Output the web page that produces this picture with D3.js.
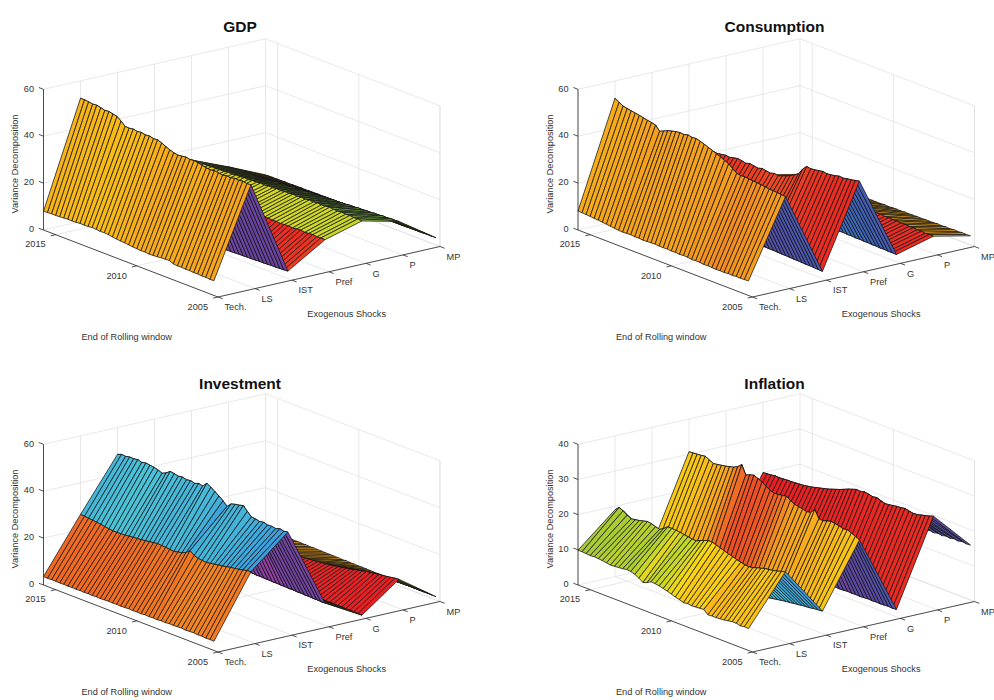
<!DOCTYPE html>
<html><head><meta charset="utf-8">
<script src="https://cdn.jsdelivr.net/npm/d3@7"></script>
<style>
body{margin:0;background:#fff}
text{font-family:"Liberation Sans",Arial,Helvetica,sans-serif}
</style>
</head><body><script>
const shocks = ["Tech.","LS","IST","Pref","G","P","MP"];
const dates = [2005.25,2005.5,2005.75,2006,2006.25,2006.5,2006.75,2007,2007.25,2007.5,2007.75,2008,2008.25,2008.5,2008.75,2009,2009.25,2009.5,2009.75,2010,2010.25,2010.5,2010.75,2011,2011.25,2011.5,2011.75,2012,2012.25,2012.5,2012.75,2013,2013.25,2013.5,2013.75,2014,2014.25,2014.5,2014.75,2015,2015.25,2015.5,2015.75];
const yearTicks = [2005,2010,2015];
const zTicks60 = [0,20,40,60];
const zTicks40 = [0,10,20,30,40];

// GDP
const gdpTech = [6.3,6.2,6.4,6.3,6.5,6.4,6.6,6.5,6.7,6.6,6.8,7.6,7.5,7.4,7.2,7.1,7.0,7.2,7.1,7.3,7.4,7.6,7.8,7.9,8.1,8.3,8.6,8.8,8.7,8.9,9.0,8.8,8.7,8.8,8.6,8.5,8.6,8.4,8.3,8.2,8.2,8.1,8.0];
const gdpLS = [43.6,43.4,43.8,43.5,43.7,43.2,43.5,43.0,43.4,43.6,43.3,43.5,43.9,44.3,44.6,44.4,44.8,44.5,44.3,44.6,45.2,46.0,46.8,47.5,47.3,47.8,47.6,48.0,47.7,48.1,47.8,47.9,49.5,50.8,51.2,51.6,51.4,51.9,52.3,52.1,52.4,52.6,52.6];
const gdpIST = [3.2,3.1,3.0,2.9,2.9,2.8,2.7,2.7,2.6,2.5,2.5,2.4,2.4,2.3,2.2,2.2,2.1,2.1,2.0,2.0,2.0,1.9,1.9,1.9,1.8,1.8,1.8,1.7,1.7,1.7,1.7,1.6,1.6,1.6,1.6,1.5,1.5,1.5,1.5,1.5,1.4,1.4,1.4];
const gdpPref = [13.0,13.1,12.9,13.2,13.0,12.8,13.1,12.9,12.7,12.9,12.8,12.6,12.8,12.7,12.9,12.6,12.8,12.5,12.7,12.6,12.4,12.6,12.5,12.3,12.5,12.4,12.2,12.4,12.3,12.1,12.3,12.2,12.0,12.2,12.1,11.9,12.1,12.0,11.8,12.0,11.9,11.8,11.9];
const gdpG = [17.4,17.6,17.5,17.7,17.6,17.8,17.6,17.7,17.9,17.7,17.6,17.8,17.5,17.7,17.4,17.6,17.3,17.5,17.2,17.3,17.0,17.2,16.9,17.0,16.7,16.9,16.6,16.7,16.4,16.6,16.3,16.4,16.1,16.2,15.9,16.0,15.8,15.9,15.7,15.8,15.6,15.7,15.5];
const gdpP = [13.6,13.4,13.5,13.2,13.3,13.0,13.1,12.8,12.9,12.6,12.7,12.4,12.5,12.1,12.2,11.9,12.0,11.7,11.8,11.5,11.5,11.2,11.3,11.0,11.0,10.7,10.8,10.5,10.5,10.2,10.3,10.0,10.0,9.8,9.8,9.6,9.6,9.4,9.4,9.3,9.2,9.1,9.0];
const gdpMP = [3.1,3.0,3.1,3.0,2.9,3.0,2.9,2.9,2.8,2.9,2.8,2.8,2.7,2.8,2.7,2.7,2.6,2.7,2.6,2.6,2.5,2.6,2.5,2.5,2.4,2.5,2.4,2.4,2.3,2.4,2.3,2.3,2.2,2.3,2.2,2.2,2.1,2.2,2.1,2.1,2.1,2.0,2.0];

// Consumption
const conTech = [6.2,6.1,6.0,6.1,5.9,6.0,5.8,5.9,5.8,5.9,6.0,5.9,6.1,6.2,6.0,6.3,6.4,6.2,6.4,6.3,6.5,6.4,6.4,6.6,6.5,6.4,6.3,6.5,6.4,6.6,6.5,6.4,6.5,6.7,6.9,7.1,7.3,7.5,7.6,7.8,7.9,8.0,8.1];
const conLS = [38.5,38.7,38.9,39.1,39.0,39.4,39.6,39.8,39.9,40.1,40.3,40.2,40.5,41.8,43.2,44.0,44.8,45.5,46.3,46.9,47.6,48.2,48.7,48.5,48.9,48.4,48.6,48.3,47.9,47.4,46.6,45.8,47.8,48.2,48.5,48.9,49.3,49.6,49.9,50.2,50.6,51.5,52.6];
const conIST = [3.1,3.2,3.3,3.4,3.4,3.5,3.6,3.6,3.7,3.8,3.8,3.9,4.0,4.0,4.1,4.1,4.2,4.2,4.3,4.3,4.3,4.2,4.2,4.1,4.1,4.0,4.0,3.9,3.9,3.8,3.8,3.7,3.6,3.6,3.5,3.4,3.4,3.3,3.2,3.2,3.1,3.1,3.0];
const conPref = [38.0,37.6,37.2,37.0,36.6,36.8,36.3,36.0,35.8,36.1,35.8,35.5,35.3,35.6,33.8,31.2,30.0,29.1,28.2,27.6,27.0,27.3,26.8,27.1,27.4,26.9,27.2,27.5,27.0,27.4,27.7,27.3,26.9,27.1,26.8,26.5,26.7,26.4,26.2,26.5,26.3,26.1,25.9];
const conG = [3.1,3.2,3.1,3.3,3.2,3.4,3.3,3.5,3.4,3.6,3.5,3.7,3.6,3.8,3.7,3.9,3.8,4.0,3.9,4.0,3.9,4.0,3.8,3.9,3.7,3.8,3.6,3.7,3.5,3.6,3.4,3.5,3.3,3.3,3.1,3.2,3.0,3.0,2.9,2.9,2.8,2.8,2.7];
const conP = [7.3,7.4,7.2,7.5,7.4,7.6,7.5,7.7,7.6,7.8,7.7,7.9,7.8,8.0,7.9,8.1,8.0,8.2,8.1,8.2,8.1,8.2,8.0,8.1,7.9,8.0,7.8,7.8,7.6,7.6,7.4,7.3,7.1,7.0,6.8,6.7,6.5,6.4,6.2,6.1,5.9,5.8,5.6];
const conMP = [3.9,3.8,3.9,3.7,3.8,3.6,3.7,3.5,3.6,3.5,3.4,3.5,3.3,3.4,3.3,3.2,3.3,3.1,3.2,3.1,3.0,3.1,3.0,2.9,3.0,2.9,2.8,2.9,2.8,2.7,2.8,2.7,2.6,2.6,2.5,2.5,2.4,2.5,2.4,2.3,2.3,2.3,2.2];

// Investment
const invTech = [3.9,4.0,3.9,4.1,4.0,4.2,4.1,4.0,4.2,4.1,4.0,4.1,3.9,4.0,3.8,3.9,3.8,3.9,3.7,3.8,3.7,3.8,3.7,3.6,3.7,3.6,3.7,3.6,3.5,3.6,3.5,3.6,3.5,3.6,3.5,3.6,3.5,3.6,3.5,3.6,3.6,3.5,3.6];
const invLS = [30.0,29.8,29.4,29.0,28.7,28.5,28.1,27.8,27.5,27.2,26.9,26.6,26.8,27.0,27.6,29.0,27.5,26.8,26.4,26.0,26.2,26.4,26.5,26.7,26.4,26.2,25.9,25.7,25.5,25.4,25.2,25.0,24.9,24.8,24.8,25.0,25.3,25.6,25.8,26.0,26.2,26.4,26.5];
const invIST = [43.3,43.0,43.4,42.8,43.1,43.0,43.5,43.2,43.6,43.8,45.5,47.3,46.8,46.5,46.0,44.3,46.0,47.4,48.6,49.8,50.8,49.0,49.4,48.8,49.3,49.0,49.5,49.2,49.6,49.9,48.6,47.8,48.5,49.0,49.2,49.5,49.1,49.6,49.3,49.4,49.0,49.2,48.5];
const invPref = [9.5,9.4,9.6,9.5,9.7,9.6,9.8,9.7,9.9,9.8,10.0,9.9,10.1,10.0,10.2,10.1,10.3,10.2,10.4,10.3,10.5,10.4,10.6,10.5,10.7,10.6,10.8,10.7,10.9,10.8,11.0,10.9,11.1,11.0,11.2,11.1,11.3,11.2,11.4,11.3,11.5,11.4,11.5];
const invG = [0.7,0.7,0.8,0.7,0.8,0.8,0.8,0.9,0.8,0.9,0.9,0.9,1.0,0.9,1.0,1.0,1.0,1.1,1.0,1.1,1.1,1.1,1.2,1.1,1.2,1.2,1.2,1.3,1.2,1.3,1.3,1.3,1.4,1.3,1.4,1.4,1.4,1.5,1.4,1.5,1.5,1.5,1.5];
const invP = [12.4,12.2,11.9,11.6,11.4,11.1,10.9,10.6,10.4,10.0,9.6,9.2,8.8,8.5,8.1,7.8,7.5,7.2,7.0,6.8,6.6,6.4,6.3,6.1,6.0,5.9,5.9,5.8,5.8,5.8,5.8,5.8,5.9,5.9,5.9,6.0,6.0,6.0,6.0,6.1,6.1,6.0,6.0];
const invMP = [1.4,1.4,1.5,1.4,1.5,1.5,1.6,1.5,1.6,1.6,1.7,1.6,1.7,1.7,1.8,1.7,1.8,1.8,1.9,1.8,1.9,1.9,2.0,1.9,2.0,2.0,2.1,2.0,2.1,2.1,2.2,2.1,2.2,2.2,2.3,2.2,2.3,2.3,2.4,2.3,2.4,2.4,2.4];

// Inflation
const infTech = [6.2,6.3,6.1,6.4,6.4,6.2,6.0,5.9,5.8,5.8,5.7,6.8,6.7,6.6,6.5,6.7,6.5,6.9,7.2,7.6,8.0,8.3,8.6,8.8,8.9,8.2,7.8,8.6,9.2,9.6,9.7,9.5,9.4,9.3,9.2,9.4,9.6,9.7,9.8,9.7,9.8,9.9,9.9];
const infLS = [20.0,19.6,19.3,19.0,18.8,18.7,18.3,18.0,17.6,17.4,17.5,17.8,18.1,18.5,18.8,19.2,19.6,20.0,20.4,20.4,20.0,19.5,19.0,19.1,19.3,19.5,19.7,19.8,19.9,19.9,19.0,18.3,18.6,19.0,19.2,18.9,18.6,18.4,18.2,18.8,19.6,20.1,19.0];
const infIST = [6.4,6.3,6.2,6.0,5.9,5.8,5.6,5.5,5.3,5.2,5.0,4.8,4.6,4.4,4.2,4.0,3.8,3.6,3.4,3.2,3.1,3.0,2.9,2.9,2.8,2.8,2.9,3.0,3.2,3.4,3.6,4.0,4.4,4.9,5.3,5.7,6.0,6.2,6.4,6.5,6.5,6.6,6.6];
const infPref = [24.2,24.8,25.3,25.8,25.6,26.0,26.2,26.4,26.1,25.7,25.8,28.0,26.7,26.5,26.8,27.0,27.3,27.9,28.7,28.5,28.3,28.2,28.6,29.3,30.1,30.6,31.1,30.8,30.3,32.8,31.8,31.2,30.9,30.6,30.4,30.2,30.0,30.6,31.2,31.0,30.9,30.8,30.7];
const infG = [2.1,2.0,2.1,2.0,1.9,2.0,1.9,2.0,1.9,1.8,1.9,1.8,1.9,1.8,1.7,1.8,1.7,1.8,1.7,1.6,1.7,1.6,1.7,1.6,1.5,1.6,1.5,1.6,1.5,1.5,1.6,1.5,1.5,1.4,1.5,1.4,1.5,1.4,1.4,1.5,1.4,1.5,1.5];
const infP = [26.2,25.8,25.5,25.2,24.9,24.8,25.0,25.3,25.1,25.0,24.8,24.6,24.5,24.8,25.3,25.1,25.4,25.6,25.3,25.4,25.0,24.6,24.1,23.6,23.2,22.8,22.4,22.1,21.8,21.5,21.2,21.0,20.8,20.7,20.6,20.5,20.5,20.4,20.3,20.4,20.2,20.1,20.0];
const infMP = [15.6,15.5,15.7,15.4,15.6,15.3,15.5,15.2,15.4,15.1,15.3,15.0,15.2,14.9,15.1,14.8,15.0,14.7,14.9,14.6,14.8,14.5,14.6,14.3,14.4,14.1,14.2,13.9,14.0,13.7,13.8,13.5,13.6,13.3,13.3,13.0,13.0,12.8,12.7,12.5,12.4,12.3,12.1];

// colormap (red -> orange -> yellow -> green -> cyan -> blue -> purple)
const cmStops = [0,0.03,0.05,0.065,0.08,0.12,0.15,0.18,0.23,0.29,0.38,0.48,0.58,0.68,0.80,0.91,1.0];
const cmColors = ["#e82024","#ea3223","#ef5a24","#f27d22","#f5a01e","#f8ae1a","#f9be18","#fad714","#c8d728","#96c33c","#64be78","#4bc3d7","#3ca0dc","#3c64b9","#5f46a0","#8c41a5","#b437a0"];
const cmap = d3.scaleLinear().domain(cmStops).range(cmColors).interpolate(d3.interpolateRgb).clamp(true);

const panels = [
  {title:"GDP", series:[gdpTech,gdpLS,gdpIST,gdpPref,gdpG,gdpP,gdpMP], zMax:60, zTicks:zTicks60, dx:0, dy:0, ty:31.5},
  {title:"Consumption", series:[conTech,conLS,conIST,conPref,conG,conP,conMP], zMax:60, zTicks:zTicks60, dx:534.5, dy:0, ty:31.5},
  {title:"Investment", series:[invTech,invLS,invIST,invPref,invG,invP,invMP], zMax:60, zTicks:zTicks60, dx:0, dy:355, ty:388.5},
  {title:"Inflation", series:[infTech,infLS,infIST,infPref,infG,infP,infMP], zMax:40, zTicks:zTicks40, dx:534.5, dy:355, ty:388.5}
];

const W = 994, H = 700;
const svg = d3.select("body").append("svg").attr("width", W).attr("height", H)
  .style("background","#fff");

const yMin = 2005, yMax = 2015.75;
const VX = [222, -50.5], VY = [-174.5, -67], VZ = 140.7;

function drawPanel(p){
  const g = svg.append("g");
  const O = [218 + p.dx, 297 + p.dy];
  const nK = shocks.length - 1;
  const xs = d3.scaleLinear().domain([0, nK]).range([0, 1]);
  const ys = d3.scaleLinear().domain([yMin, yMax]).range([0, 1]);
  const zs = d3.scaleLinear().domain([0, p.zMax]).range([0, VZ]);
  const P = (k, d, z) => [O[0] + xs(k)*VX[0] + ys(d)*VY[0], O[1] + xs(k)*VX[1] + ys(d)*VY[1] - zs(z)];
  const line = d3.line();
  const seg = (a, b, col, w) => g.append("path").attr("d", line([a, b])).attr("stroke", col).attr("stroke-width", w).attr("fill", "none");

  // grid
  const gc = "#dedede", gw = 0.7;
  shocks.forEach((s, k) => seg(P(k, yMin, 0), P(k, yMax, 0), gc, gw));
  yearTicks.forEach(d => seg(P(0, d, 0), P(nK, d, 0), gc, gw));
  shocks.forEach((s, k) => seg(P(k, yMax, 0), P(k, yMax, p.zMax), gc, gw));
  p.zTicks.forEach(z => seg(P(0, yMax, z), P(nK, yMax, z), gc, gw));
  yearTicks.forEach(d => seg(P(nK, d, 0), P(nK, d, p.zMax), gc, gw));
  seg(P(nK, yMin, 0), P(nK, yMin, p.zMax), gc, gw);
  p.zTicks.forEach(z => seg(P(nK, yMin, z), P(nK, yMax, z), gc, gw));

  // surface faces, back to front
  const Z = p.series;
  const ext = d3.extent(Z.flat());
  const faces = [];
  for (let k = nK - 1; k >= 0; k--) {
    for (let j = dates.length - 2; j >= 0; j--) {
      faces.push({
        pts: [P(k, dates[j], Z[k][j]), P(k+1, dates[j], Z[k+1][j]), P(k+1, dates[j+1], Z[k+1][j+1]), P(k, dates[j+1], Z[k][j+1])],
        c: Z[k][j]
      });
    }
  }
  g.append("g").selectAll("path").data(faces).join("path")
    .attr("d", f => line(f.pts) + "Z")
    .attr("fill", f => cmap((f.c - ext[0]) / (ext[1] - ext[0])))
    .attr("stroke", "#141414").attr("stroke-width", 0.75).attr("stroke-linejoin", "round");

  // axes
  const ac = "#262626", aw = 0.8;
  seg(P(0, yMax, 0), P(0, yMax, p.zMax), ac, aw);
  seg(P(0, yMax, 0), P(0, yMin, 0), ac, aw);
  seg(P(0, yMin, 0), P(nK, yMin, 0), ac, aw);
  const uy = Math.hypot(VY[0], VY[1]), ux = Math.hypot(VX[0], VX[1]);
  const tl = 5;
  shocks.forEach((s, k) => {
    const a = P(k, yMin, 0);
    seg(a, [a[0] - VY[0]/uy*tl, a[1] - VY[1]/uy*tl], ac, aw);
    g.append("text").attr("x", a[0] + 6.5).attr("y", a[1] + 10).attr("dy", "0.35em")
      .attr("font-size", 9.2).attr("fill", "#333").text(s);
  });
  yearTicks.forEach(d => {
    const a = P(0, d, 0);
    seg(a, [a[0] - VX[0]/ux*tl, a[1] - VX[1]/ux*tl], ac, aw);
    g.append("text").attr("x", a[0] - 10).attr("y", a[1] + 9.5).attr("dy", "0.35em")
      .attr("text-anchor", "end").attr("font-size", 9.2).attr("fill", "#333").text(d);
  });
  p.zTicks.forEach(z => {
    const a = P(0, yMax, z);
    seg(a, [a[0] + VY[0]/uy*tl, a[1] + VY[1]/uy*tl], ac, aw);
    g.append("text").attr("x", a[0] - 9.5).attr("y", a[1] - 1).attr("dy", "0.35em")
      .attr("text-anchor", "end").attr("font-size", 9.2).attr("fill", "#333").text(z);
  });

  // labels
  g.append("text").attr("x", 240 + p.dx).attr("y", p.ty).attr("text-anchor", "middle")
    .attr("font-size", 15.5).attr("font-weight", "bold").attr("fill", "#111").text(p.title);
  g.append("text").attr("x", 346.7 + p.dx).attr("y", 313.3 + p.dy).attr("dy", "0.35em")
    .attr("text-anchor", "middle").attr("font-size", 9.2).attr("fill", "#333").text("Exogenous Shocks");
  g.append("text").attr("x", 126.7 + p.dx).attr("y", 336.7 + p.dy).attr("dy", "0.35em")
    .attr("text-anchor", "middle").attr("font-size", 9.2).attr("fill", "#333").text("End of Rolling window");
  g.append("text").attr("transform", `translate(${15 + p.dx},${164 + p.dy}) rotate(-90)`).attr("dy", "0.35em")
    .attr("text-anchor", "middle").attr("font-size", 9.2).attr("fill", "#333").text("Variance Decomposition");
}

panels.forEach(drawPanel);
</script></body></html>
